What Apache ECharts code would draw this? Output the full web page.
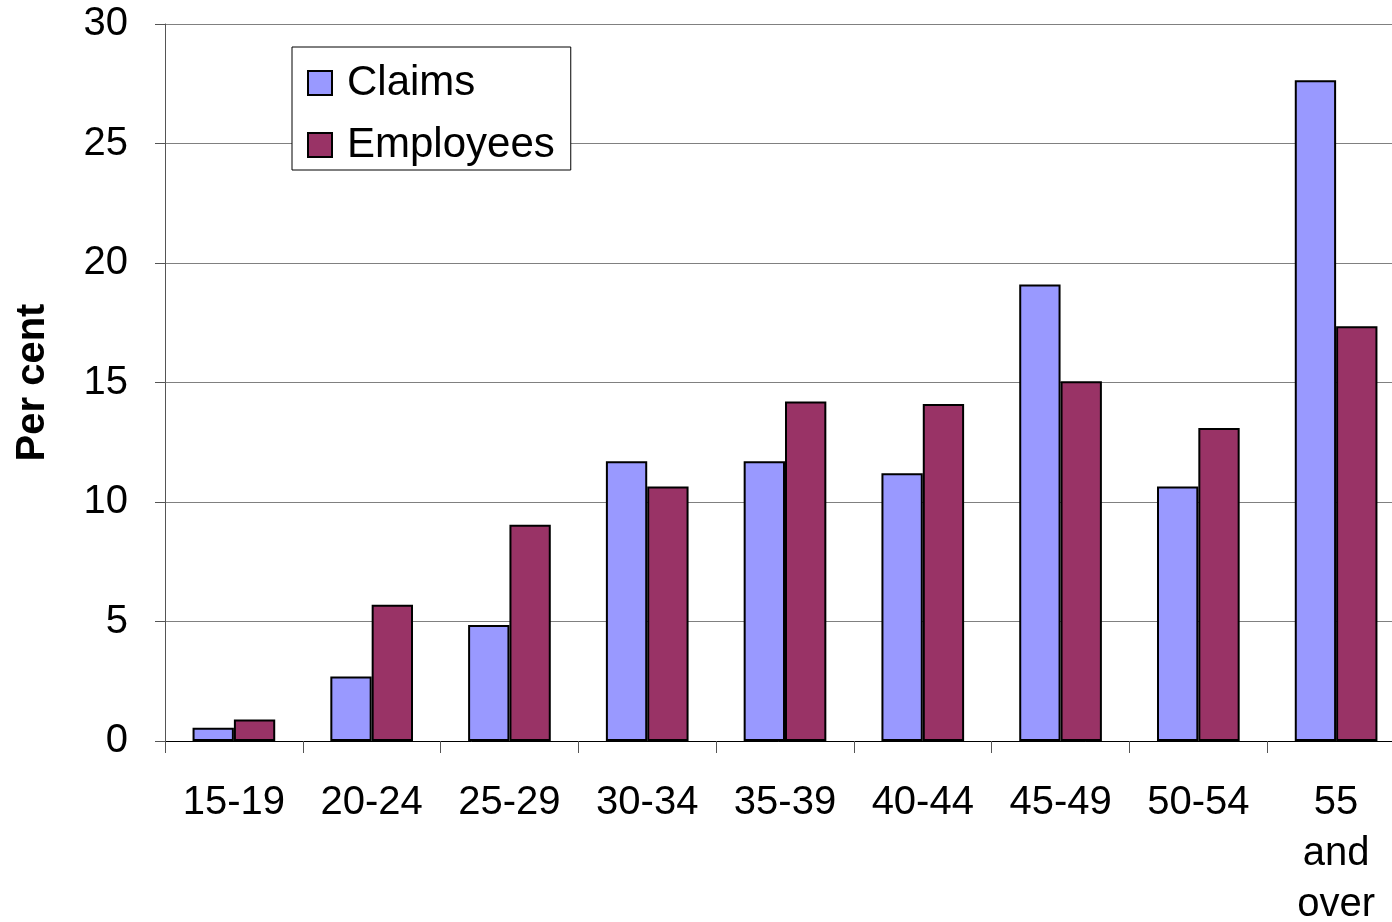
<!DOCTYPE html>
<html>
<head>
<meta charset="utf-8">
<script src="https://cdn.jsdelivr.net/npm/echarts@6/dist/echarts.min.js"></script>
<style>
  html, body { margin: 0; padding: 0; background: #fff; }
  #chart { width: 1392px; height: 922px; }
</style>
</head>
<body>
<div id="chart"></div>
<script>
const ageGroups = ["15-19", "20-24", "25-29", "30-34", "35-39", "40-44", "45-49", "50-54", "55\nand\nover"];
const claims = [0.55, 2.7, 4.85, 11.7, 11.7, 11.2, 19.1, 10.65, 27.65];
const employees = [0.9, 5.7, 9.05, 10.65, 14.2, 14.1, 15.05, 13.1, 17.35];
const yTicks = [0, 5, 10, 15, 20, 25, 30];

const myChart = echarts.init(document.getElementById("chart"));
const font = "Liberation Sans, Arial, sans-serif";

const option = {
  animation: false,
  textStyle: { fontFamily: font },
  grid: { left: 165, top: 24, bottom: 181, right: -13, outerBoundsMode: "none", containLabel: false },
  legend: {
    orient: "vertical",
    left: 292,
    top: 47,
    padding: [15, 16, 4, 15],
    itemWidth: 24,
    itemHeight: 24,
    itemGap: 20,
    borderColor: "#000",
    borderWidth: 1,
    backgroundColor: "#fff",
    icon: "rect",
    textStyle: { fontSize: 42, color: "#000", fontFamily: font, padding: [0, 0, 0, 10], lineHeight: 38 },
    data: ["Claims", "Employees"]
  },
  xAxis: {
    type: "category",
    data: ageGroups,
    axisLine: { lineStyle: { color: "#000", width: 1 } },
    axisTick: { show: true, length: 12, lineStyle: { color: "#555" } },
    axisLabel: { fontSize: 40, color: "#000", margin: 36, lineHeight: 51, fontFamily: font }
  },
  yAxis: {
    type: "value",
    min: yTicks[0],
    max: yTicks[yTicks.length - 1],
    interval: 5,
    name: "Per cent",
    nameLocation: "middle",
    nameRotate: 90,
    nameGap: 112,
    nameTextStyle: { fontSize: 40, fontWeight: "bold", color: "#000", fontFamily: font },
    axisLine: { show: true, lineStyle: { color: "#555" } },
    axisTick: { show: true, length: 10, lineStyle: { color: "#555" } },
    axisLabel: { fontSize: 40, color: "#000", margin: 37, fontFamily: font },
    splitLine: { lineStyle: { color: "#808080", width: 1 } }
  },
  series: [
    {
      name: "Claims",
      type: "bar",
      data: claims,
      barGap: "0%",
      barCategoryGap: "40%",
      itemStyle: { color: "#9999FF", borderColor: "#000", borderWidth: 2 }
    },
    {
      name: "Employees",
      type: "bar",
      data: employees,
      barGap: "0%",
      barCategoryGap: "40%",
      itemStyle: { color: "#993366", borderColor: "#000", borderWidth: 2 }
    }
  ]
};
myChart.setOption(option);
</script>
</body>
</html>
